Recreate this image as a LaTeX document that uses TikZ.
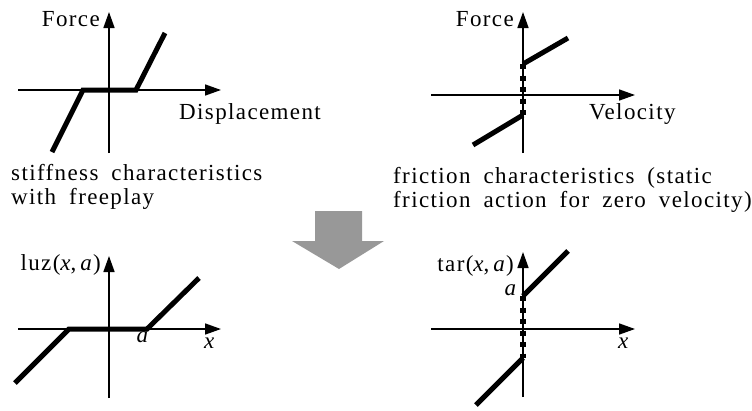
\documentclass[tikz,border=0pt]{standalone}
\usepackage{fontspec}
\setmainfont{Liberation Serif}[LetterSpace=6]
\usetikzlibrary{arrows.meta}
\definecolor{arrowgray}{RGB}{152,152,152}
\newcommand\lblfont{\fontsize{23}{27}\selectfont\spaceskip=13pt\relax}
\tikzset{
  axis/.style={line width=1.6pt,-{Triangle[width=11pt,length=16pt]}},
  curve/.style={line width=5pt},
  dotline/.style={line width=6pt,dash pattern=on 5pt off 6.5pt},
  lbl/.style={inner sep=0pt,font=\lblfont},
}
\begin{document}
\begin{tikzpicture}[x=1pt,y=-1pt]
\useasboundingbox (0,0) rectangle (752,410);
% ---------- panel 1: stiffness with freeplay
\coordinate (p1vb) at (109,153); \coordinate (p1vt) at (109,12);
\coordinate (p1hl) at (18,90);   \coordinate (p1hr) at (221,90);
\coordinate (p1a) at (52,152); \coordinate (p1b) at (83,90);
\coordinate (p1c) at (136,90); \coordinate (p1d) at (165,33);
\draw[axis] (p1vb) -- (p1vt);
\draw[axis] (p1hl) -- (p1hr);
\draw[curve] (p1a) -- (p1b) -- (p1c) -- (p1d);
\node[lbl,anchor=base east] (f1) at (100,26) {Force};
\node[lbl,anchor=base west] (d1) at (179,119) {Displacement};
\node[lbl,anchor=base west] (s1) at (11,180) {stiffness characteristics};
\node[lbl,anchor=base west] (s2) at (11,204) {with freeplay};
% ---------- panel 2: friction
\coordinate (p2vb) at (523,153); \coordinate (p2vt) at (523,12);
\coordinate (p2hl) at (431,95);  \coordinate (p2hr) at (635,95);
\coordinate (p2u0) at (523,64);  \coordinate (p2u1) at (568,38);
\coordinate (p2l0) at (473,145); \coordinate (p2l1) at (523,115);
\draw[axis] (p2vb) -- (p2vt);
\draw[axis] (p2hl) -- (p2hr);
\draw[curve] (p2u0) -- (p2u1);
\draw[curve] (p2l0) -- (p2l1);
\draw[dotline] (p2u0) -- (p2l1);
\node[lbl,anchor=base east] (f2) at (514,26) {Force};
\node[lbl,anchor=base west] (v2) at (589,119) {Velocity};
\node[lbl,anchor=base west] (t1) at (393,183) {friction characteristics (static};
\node[lbl,anchor=base west] (t2) at (393,207) {friction action for zero velocity)};
% ---------- grey arrow
\fill[arrowgray] (315,211) coordinate (ga1) -- (362,211) -- (362,241) -- (384,241)
  -- (339,269) coordinate (gtip) -- (292,241) -- (315,241) -- cycle;
% ---------- panel 3: luz
\coordinate (p3vb) at (109,398); \coordinate (p3vt) at (109,256);
\coordinate (p3hl) at (18,329);  \coordinate (p3hr) at (221,329);
\coordinate (p3a) at (15,383); \coordinate (p3b) at (69,329);
\coordinate (p3c) at (147,329); \coordinate (p3d) at (199,278);
\draw[axis] (p3vb) -- (p3vt);
\draw[axis] (p3hl) -- (p3hr);
\draw[curve] (p3a) -- (p3b) -- (p3c) -- (p3d);
\node[lbl,anchor=base east] (l3) at (101,270) {luz(\textit{x},\,\textit{a})};
\node[lbl,anchor=base] (a3) at (143,342) {\textit{a}};
\node[lbl,anchor=base] (x3) at (210,348) {\textit{x}};
% ---------- panel 4: tar
\coordinate (p4vb) at (523,397); \coordinate (p4vt) at (523,252);
\coordinate (p4hl) at (431,329); \coordinate (p4hr) at (635,329);
\coordinate (p4u0) at (523,296); \coordinate (p4u1) at (568,251);
\coordinate (p4l0) at (476,405); \coordinate (p4l1) at (523,358);
\draw[axis] (p4vb) -- (p4vt);
\draw[axis] (p4hl) -- (p4hr);
\draw[curve] (p4u0) -- (p4u1);
\draw[curve] (p4l0) -- (p4l1);
\draw[dotline] (p4u0) -- (p4l1);
\node[lbl,anchor=base east] (l4) at (514,271) {tar(\textit{x},\,\textit{a})};
\node[lbl,anchor=base] (a4) at (511,295) {\textit{a}};
\node[lbl,anchor=base] (x4) at (624,348) {\textit{x}};
\end{tikzpicture}
\end{document}
